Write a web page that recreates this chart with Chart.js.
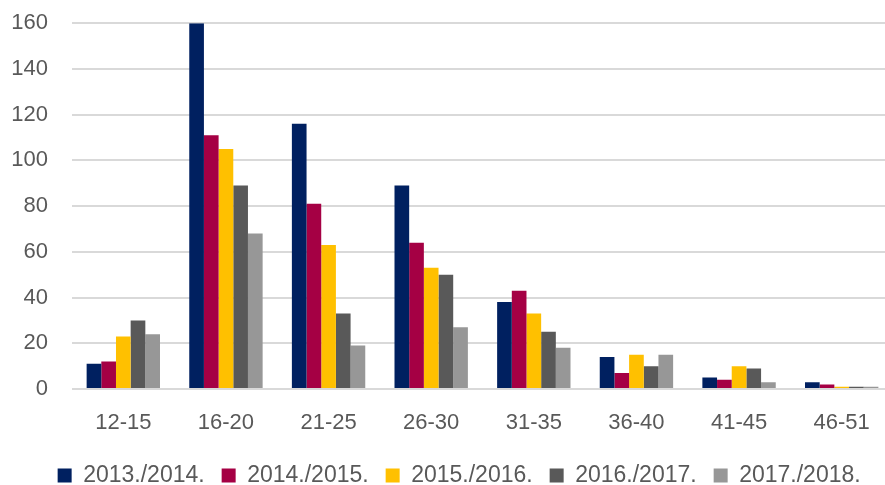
<!DOCTYPE html>
<html>
<head>
<meta charset="utf-8">
<script src="https://cdn.jsdelivr.net/npm/chart.js@4/dist/chart.umd.min.js"></script>
<style>
html,body{margin:0;padding:0;background:#fff;overflow:hidden;}
#wrap{width:885px;height:485px;position:relative;overflow:hidden;}
#c{position:absolute;left:0;top:0;}
</style>
</head>
<body>
<div id="wrap"><canvas id="c" width="893" height="485"></canvas></div>
<script>
const categories = ["12-15","16-20","21-25","26-30","31-35","36-40","41-45","46-51"];
const seriesNames = ["2013./2014.","2014./2015.","2015./2016.","2016./2017.","2017./2018."];
const s2013 = [11, 160, 116, 89, 38, 14, 5, 3];
const s2014 = [12, 111, 81, 64, 43, 7, 4, 2];
const s2015 = [23, 105, 63, 53, 33, 15, 10, 1];
const s2016 = [30, 89, 33, 50, 25, 10, 9, 1];
const s2017 = [24, 68, 19, 27, 18, 15, 3, 1];
const yTicks = [0, 20, 40, 60, 80, 100, 120, 140, 160];

const colors = ["#002060", "#A50044", "#FFC000", "#595959", "#979797"];
const values = [s2013, s2014, s2015, s2016, s2017];

const font = "'Liberation Sans', Arial, sans-serif";

const legendShift = {
  id: 'legendShift',
  afterLayout(chart) {
    const lg = chart.legend;
    if (!lg) return;
    lg.left += 12; lg.right += 12;
    lg.top = 447; lg.bottom = 520;
  }
};

new Chart(document.getElementById('c'), {
  type: 'bar',
  data: {
    labels: categories,
    datasets: seriesNames.map((n, i) => ({
      label: n,
      data: values[i],
      backgroundColor: colors[i],
      borderWidth: 0,
      categoryPercentage: 0.715,
      barPercentage: 1.0
    }))
  },
  plugins: [legendShift],
  options: {
    responsive: false,
    animation: false,
    layout: { padding: { top: 0, right: 0, left: 1.3, bottom: 0 } },
    plugins: {
      tooltip: { enabled: false },
      legend: {
        position: 'bottom',
        maxHeight: 27.6,
        labels: {
          font: { family: font, size: 23 },
          color: '#595959',
          boxWidth: 14,
          boxHeight: 14,
          padding: 17
        }
      }
    },
    scales: {
      x: {
        grid: { display: false, drawTicks: false },
        border: { display: false },
        ticks: { font: { family: font, size: 22 }, color: '#595959', padding: 21 }
      },
      y: {
        min: 0, max: 160,
        afterBuildTicks: (ax) => { ax.ticks = yTicks.map(v => ({ value: v })); },
        grid: { color: '#d9d9d9', lineWidth: 2, drawTicks: true, tickLength: 14, tickColor: 'rgba(0,0,0,0)' },
        border: { display: false },
        ticks: { font: { family: font, size: 22 }, color: '#595959', padding: 10 }
      }
    }
  }
});
</script>
</body>
</html>
